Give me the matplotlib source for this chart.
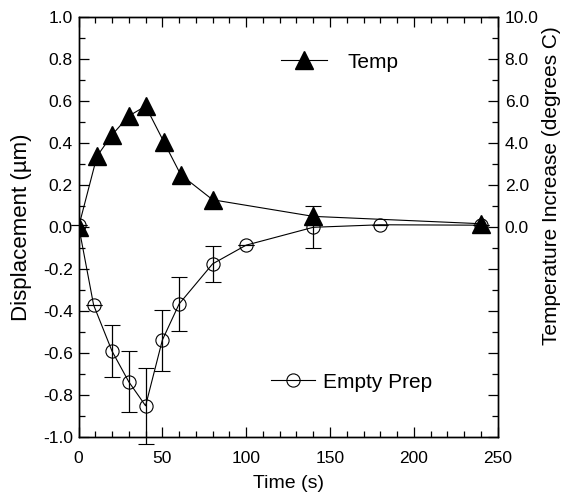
import matplotlib
matplotlib.use('Agg')
import matplotlib.pyplot as plt
from matplotlib.ticker import MultipleLocator, FuncFormatter
from matplotlib.lines import Line2D

plt.rcParams['font.family'] = ['Liberation Sans', 'DejaVu Sans']

# Empty Prep displacement (um)
prep_time = [0, 9, 20, 30, 40, 50, 60, 80, 100, 140, 180, 240]
prep_disp = [0.01, -0.37, -0.59, -0.736, -0.85, -0.537, -0.365, -0.174, -0.085, 0.0, 0.012, 0.01]
prep_err = [0, 0, 0.125, 0.145, 0.18, 0.145, 0.13, 0.085, 0, 0.1, 0, 0]

# Temperature increase (degrees C)
temp_time = [0, 11, 20, 30, 40, 51, 61, 80, 140, 240]
temp_val = [0.0, 3.38, 4.4, 5.3, 5.77, 4.05, 2.5, 1.31, 0.52, 0.17]

fig = plt.figure(figsize=(5.62, 4.94), dpi=100)
ax = fig.add_axes([0.1397, 0.1148, 0.7459, 0.8502])
ax2 = ax.twinx()

eb = ax.errorbar(prep_time, prep_disp, yerr=prep_err, color='black', lw=0.8,
                 marker='o', ms=9.5, mfc='none', mec='black', mew=0.8,
                 capsize=5.5, elinewidth=0.9, capthick=0.9, zorder=2)
# error bar at 40 s runs below the axis in the original
for art in eb.lines[1]:
    art.set_clip_on(False)
for art in eb.lines[2]:
    art.set_clip_on(False)
ax2.plot(temp_time, temp_val, color='black', lw=0.8, marker='^', ms=13,
         mfc='black', mec='black', zorder=3)

ax.set_xlim(0, 250)
ax.set_ylim(-1.0, 1.0)
ax2.set_ylim(-10, 10)

ax.xaxis.set_major_locator(MultipleLocator(50))
ax.xaxis.set_minor_locator(MultipleLocator(10))
ax.yaxis.set_major_locator(MultipleLocator(0.2))
ax.yaxis.set_minor_locator(MultipleLocator(0.1))
ax.yaxis.set_major_formatter(FuncFormatter(lambda v, p: '%.1f' % v))
ax2.yaxis.set_major_locator(MultipleLocator(2))
ax2.yaxis.set_minor_locator(MultipleLocator(1))
ax2.yaxis.set_major_formatter(FuncFormatter(lambda v, p: '%.1f' % v if v >= -0.01 else ''))

ax.tick_params(which='both', direction='in', top=True, right=False, labelsize=12.5)
ax.tick_params(which='major', length=7.5, width=0.9)
ax.tick_params(which='minor', length=4, width=0.9)
ax.tick_params(axis='x', pad=10)
ax.tick_params(axis='y', pad=4)
ax2.tick_params(which='both', direction='in', labelsize=12.5, pad=5)
ax2.tick_params(which='major', length=7.5, width=0.9)
ax2.tick_params(which='minor', length=4, width=0.9)
for a in (ax, ax2):
    for s in a.spines.values():
        s.set_linewidth(1.0)

ax.set_xlabel('Time (s)', fontsize=14, labelpad=6)
ax.set_ylabel('Displacement (\u00b5m)', fontsize=16)
ax.yaxis.set_label_coords(-0.111, 0.5)
ax2.set_ylabel('Temperature Increase (degrees C)', fontsize=15)
ax2.yaxis.set_label_coords(1.106, 0.60)

h_temp = Line2D([], [], color='black', lw=0.8, marker='^', ms=13, mfc='black')
h_prep = Line2D([], [], color='black', lw=0.8, marker='o', ms=9.5, mfc='none', mew=0.8)
leg1 = fig.legend([h_temp], ['Temp'], loc='center left', frameon=False,
                  bbox_to_anchor=(281 / 562, 1 - 62 / 494), fontsize=15,
                  handlelength=2.2, handletextpad=1.0, borderpad=0, borderaxespad=0)
leg2 = fig.legend([h_prep], ['Empty Prep'], loc='center left', frameon=False,
                  bbox_to_anchor=(271 / 562, 1 - 382 / 494), fontsize=15,
                  handlelength=2.1, handletextpad=0.4, borderpad=0, borderaxespad=0)

fig.savefig('out.png', dpi=100)
